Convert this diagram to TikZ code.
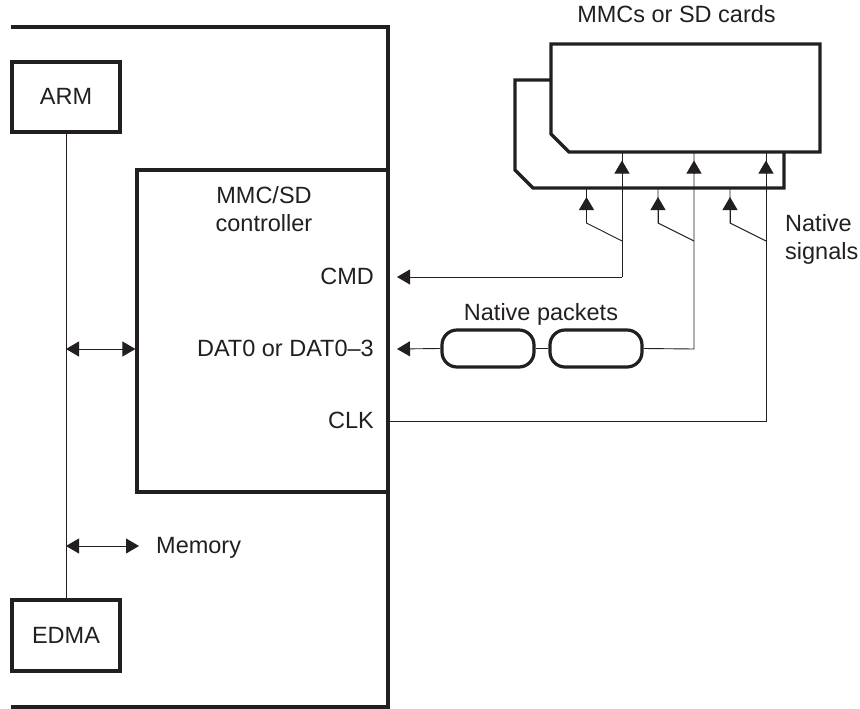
\documentclass[tikz,border=0pt]{standalone}
\usepackage{fontspec}
\setmainfont{Liberation Sans}
\usetikzlibrary{arrows.meta}
\definecolor{ink}{HTML}{231F20}
\tikzset{
  thick line/.style={draw=ink,line width=3.2pt,line join=miter},
  thin line/.style={draw=ink,line width=0.9pt},
  block/.style={thick line,rectangle,inner sep=0pt,fill=white},
  packet/.style={thick line,rectangle,rounded corners=15pt,minimum width=92pt,minimum height=37pt,inner sep=0pt,fill=white},
  label/.style={inner sep=0pt,text=ink,font=\fontsize{23.5}{28}\selectfont},
  head/.style={-{Triangle[length=13pt,width=15pt]},ink,line width=0.9pt},
  twohead/.style={{Triangle[length=13pt,width=15pt]}-{Triangle[length=13pt,width=15pt]},ink,line width=0.9pt}
}
\begin{document}
\begin{tikzpicture}[x=1pt,y=-1pt]
\useasboundingbox (0,0) rectangle (860,709);
% chip outline
\draw[thick line] (11,27) -- (388,27) -- (388,707) -- (11,707);
% blocks
\node[block,minimum width=108pt,minimum height=70pt] (arm) at (66,97) {};
\node[block,minimum width=108pt,minimum height=71pt] (edma) at (66,635.5) {};
\node[block,minimum width=251pt,minimum height=322pt] (ctrl) at (262.5,331) {};
\node[label,anchor=base] (armname) at (66,105) {ARM};
\node[label,anchor=base] (edmaname) at (66,643) {EDMA};
% controller labels
\node[label,anchor=base,align=center] (ctrlname) at (264,231) {MMC/SD\\controller};
\node[label,anchor=base east] (cmd) at (374,284) {CMD};
\node[label,anchor=base east] (dat) at (374,356) {DAT0 or DAT0--3};
\node[label,anchor=base east] (clk) at (374,428) {CLK};
% bus
\draw[thin line] (arm.south) -- (edma.north);
\coordinate (busctrl) at (66,349);
\coordinate (busmem) at (66,546);
\coordinate (ctrlport) at (ctrl.west |- busctrl);
\coordinate (memend) at (139,546);
\draw[twohead] (busctrl) -- (ctrlport);
\draw[twohead] (busmem) -- (memend);
\node[label,anchor=base west] (memory) at (156,553) {Memory};
% cards
\draw[thick line] (551,80) -- (515,80) -- (515,170) -- (533,188) -- (784,188) -- (784,152);
\draw[thick line] (551,44) -- (820,44) -- (820,152) -- (569,152) -- (551,134) -- cycle;
\node[label,anchor=base] (cardsname) at (676.5,23) {MMCs or SD cards};
% ports on chip edge
\coordinate (cmdport) at (397,277);
\coordinate (datport) at (397,349);
\coordinate (clkport) at (388,421);
% card contacts (front)
\coordinate (f1) at (622,152);
\coordinate (f2) at (694,152);
\coordinate (f3) at (766,152);
\coordinate (f1b) at (622,173);
\coordinate (f2b) at (694,173);
\coordinate (f3b) at (766,173);
\coordinate (cmdturn) at (622,277);
\coordinate (datturn) at (694,349);
\coordinate (clkturn) at (766,421);
% card contacts (back)
\coordinate (b1) at (586.5,188);
\coordinate (b2) at (658,188);
\coordinate (b3) at (730,188);
\coordinate (k1) at (586.5,223);
\coordinate (k2) at (658,223);
\coordinate (k3) at (730,223);
\coordinate (j1) at (622,241);
\coordinate (j2) at (694,241);
\coordinate (j3) at (766,241);
\coordinate (t1) at (586.5,197);
\coordinate (t2) at (658,197);
\coordinate (t3) at (730,197);
\coordinate (tf1) at (622,160.5);
\coordinate (tf2) at (694,160.5);
\coordinate (tf3) at (766,160.5);
% packets
\node[packet] (p1) at (488,348.5) {};
\node[packet] (p2) at (596,348.5) {};
\node[label,anchor=base] (packets) at (541,320) {Native packets};
% signal lines
\draw[thin line] (f1) -- (cmdturn);
\draw[thin line] (f2) -- (datturn) -- (p2.east);
\draw[thin line] (p2.west) -- (p1.east);
\draw[thin line] (f3) -- (clkturn) -- (clkport);
\draw[head] (cmdturn) -- (cmdport);
\draw[head] (p1.west) -- (datport);
\draw[head] (f1b) -- (tf1);
\draw[head] (f2b) -- (tf2);
\draw[head] (f3b) -- (tf3);
\draw[thin line] (b1) -- (k1) -- (j1);
\draw[thin line] (b2) -- (k2) -- (j2);
\draw[thin line] (b3) -- (k3) -- (j3);
\draw[head] (k1) -- (t1);
\draw[head] (k2) -- (t2);
\draw[head] (k3) -- (t3);
\node[label,align=left,anchor=base west] (signals) at (785,259) {Native\\signals};
\end{tikzpicture}
\end{document}
